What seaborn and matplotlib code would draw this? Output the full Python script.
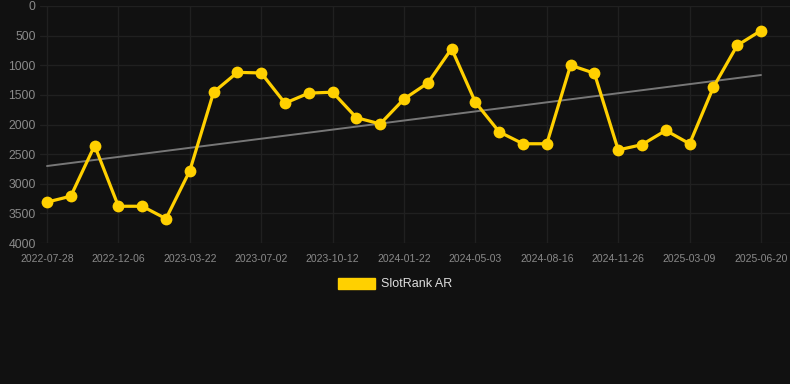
import numpy as np
import pandas as pd
import seaborn as sns
import matplotlib.pyplot as plt
from matplotlib.patches import Patch

# SlotRank AR values, one per period (lower rank = better, axis inverted)
ranks = [3310, 3210, 2355, 3380, 3380, 3590, 2780, 1455, 1120, 1130,
         1640, 1470, 1455, 1885, 1990, 1570, 1300, 720, 1625, 2125,
         2325, 2325, 1000, 1135, 2430, 2340, 2100, 2325, 1370, 665, 415]

# only every third period carries a date label
tick_labels = ["2022-07-28", "2022-12-06", "2023-03-22", "2023-07-02",
               "2023-10-12", "2024-01-22", "2024-05-03", "2024-08-16",
               "2024-11-26", "2025-03-09", "2025-06-20"]
y_ticks = [0, 500, 1000, 1500, 2000, 2500, 3000, 3500, 4000]

bg = "#111111"
gold = "#FFD000"
grid_col = "#202020"
text_col = "#8a8a8a"

df = pd.DataFrame({"idx": np.arange(len(ranks)), "rank": ranks})

sns.set_theme(style="dark")
plt.rcParams['font.family'] = ['Liberation Sans', 'DejaVu Sans']

fig = plt.figure(figsize=(7.9, 3.84), dpi=100, facecolor=bg)
ax = fig.add_axes([40 / 790, 1 - 243 / 384, 750 / 790, 237 / 384])
ax.set_facecolor(bg)

# trend line (linear fit)
sns.regplot(data=df, x="idx", y="rank", scatter=False, ci=None, ax=ax,
            line_kws={"color": "#777777", "linewidth": 1.4, "zorder": 2})

sns.lineplot(data=df, x="idx", y="rank", ax=ax, color=gold, linewidth=2.3,
             marker="o", markersize=8.5, markeredgewidth=0, zorder=3)

ax.set_ylim(4000, 0)
ax.set_yticks(y_ticks)
ax.set_yticklabels([str(v) for v in y_ticks])
step = 3
ax.set_xticks(np.arange(0, len(ranks), step))
ax.set_xticklabels(tick_labels)
ax.set_xlim(-7 / 23.8, 30 + 29 / 23.8)

ax.grid(True, color=grid_col, linewidth=1.0)
ax.tick_params(axis="x", colors=text_col, labelsize=7.5, length=5,
               width=1.0, color=grid_col, pad=3)
ax.tick_params(axis="y", colors=text_col, labelsize=8.8, length=0, pad=3)
for s in ax.spines.values():
    s.set_visible(False)
ax.set_xlabel("")
ax.set_ylabel("")

handle = Patch(facecolor=gold, edgecolor=gold)
leg = fig.legend([handle], ["SlotRank AR"], loc="center",
                 bbox_to_anchor=(0.5, 1 - 284 / 384), frameon=False,
                 fontsize=9, handlelength=3.0, handleheight=1.0,
                 handletextpad=0.5)
for t in leg.get_texts():
    t.set_color("#dddddd")

fig.savefig("out.png", dpi=100, facecolor=bg)
